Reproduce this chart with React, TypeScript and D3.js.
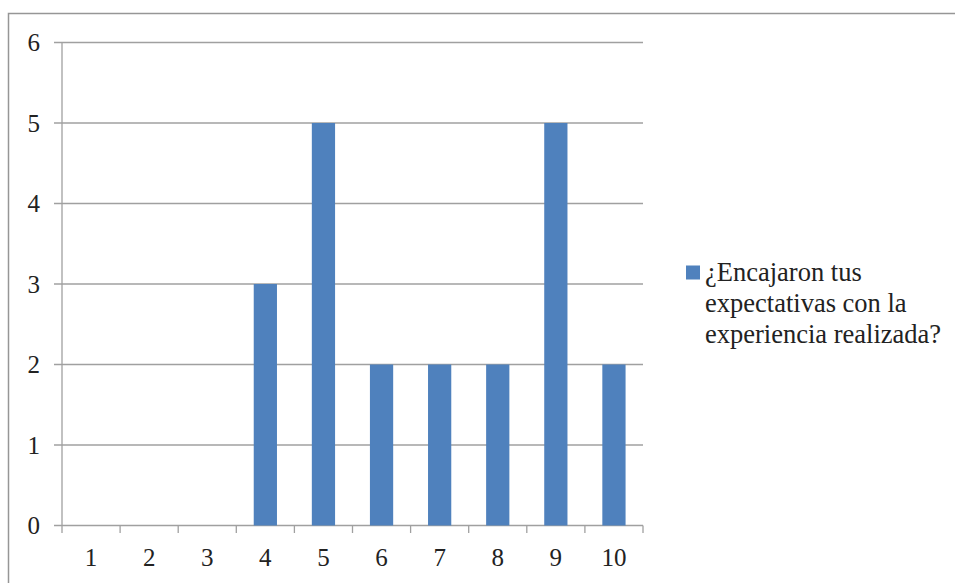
import React from "react";
import * as d3 from "d3";

const categories = ["1", "2", "3", "4", "5", "6", "7", "8", "9", "10"];
const values = [0, 0, 0, 3, 5, 2, 2, 2, 5, 2];
const yTicks = [0, 1, 2, 3, 4, 5, 6];
const legendLines = ["¿Encajaron tus", "expectativas con la", "experiencia realizada?"];

export default function App() {
  const W = 955, H = 583;
  const left = 62, right = 643, top = 42.5, bottom = 525.5;
  const x = d3.scaleBand<string>().domain(categories).range([left, right]).paddingInner(0.6).paddingOuter(0.3);
  const xc = d3.scaleBand<string>().domain(categories).range([left, right]);
  const y = d3.scaleLinear().domain([0, 6]).range([bottom, top]);
  const grid = "#a0a0a0";
  const font = "'Liberation Serif', 'Times New Roman', serif";
  return (
    <svg width={W} height={H} style={{ position: "absolute", left: 0, top: 0 }}>
      <rect x={0} y={0} width={W} height={H} fill="#fff" />
      <rect x={8.5} y={13.5} width={960} height={600} fill="none" stroke="#969696" strokeWidth={1.5} />
      {yTicks.map((t) => (
        <g key={t}>
          <line x1={54} x2={right} y1={y(t)} y2={y(t)} stroke={grid} strokeWidth={1.3} />
          <text x={40} y={y(t) + 8.5} textAnchor="end" fontFamily={font} fontSize={25} fill="#222">{t}</text>
        </g>
      ))}
      <line x1={left} x2={left} y1={top} y2={bottom} stroke={grid} strokeWidth={1.3} />
      {categories.map((c) => (
        <line key={"t" + c} x1={xc(c)! + xc.bandwidth()} x2={xc(c)! + xc.bandwidth()} y1={bottom} y2={533} stroke={grid} strokeWidth={1.3} />
      ))}
      <line x1={left} x2={left} y1={bottom} y2={533} stroke={grid} strokeWidth={1.3} />
      {categories.map((c, i) => (
        <rect key={"b" + c} x={x(c)} y={y(values[i])} width={x.bandwidth()} height={bottom - y(values[i])} fill="#4f81bd" />
      ))}
      {categories.map((c) => (
        <text key={"l" + c} x={xc(c)! + xc.bandwidth() / 2} y={566} textAnchor="middle" fontFamily={font} fontSize={25} fill="#222">{c}</text>
      ))}
      <rect x={686} y={265.5} width={14} height={14} fill="#4f81bd" />
      {legendLines.map((l, i) => (
        <text key={l} x={705} y={280.5 + i * 31} fontFamily={font} fontSize={26.5} fill="#222">{l}</text>
      ))}
    </svg>
  );
}
